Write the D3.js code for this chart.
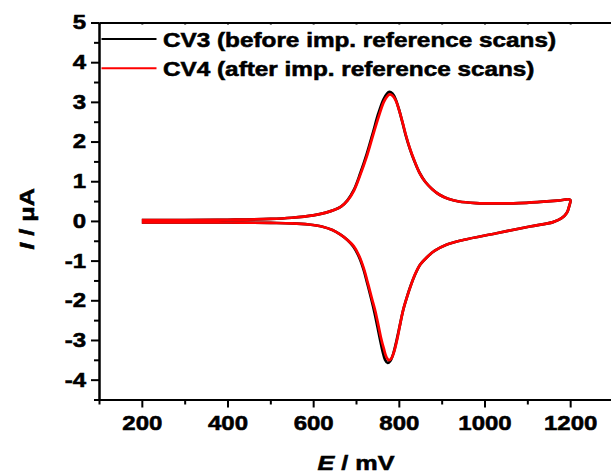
<!DOCTYPE html>
<html>
<head>
<meta charset="utf-8">
<script src="https://cdn.jsdelivr.net/npm/d3@7"></script>
<style>
  body { margin: 0; background: #fff; }
  svg text { font-family: "Liberation Sans", Arial, sans-serif; font-weight: bold; fill: #000; stroke: #000; stroke-width: 0.55px; }
</style>
</head>
<body>
<div id="chart"></div>
<script>
// CV3 (black) - forward scan then reverse scan, E in mV, I in uA
const cv3E = [200, 300, 400, 500, 550, 600, 630, 650, 665, 680, 695, 710, 725, 740, 752, 764, 772, 778, 785, 792, 800, 808, 816, 825, 835, 848, 862, 878, 895, 915, 940, 980, 1030, 1080, 1130, 1170, 1200,
              1198, 1192, 1180, 1160, 1106, 1028, 950, 911, 884, 865, 850, 838, 828, 818, 810, 803, 795, 787, 780, 774, 768, 762, 756, 750, 743, 736, 727, 717, 706, 694, 680, 663, 645, 620, 590, 550, 500, 400, 300, 200];
const cv3I = [0.02, 0.02, 0.03, 0.05, 0.08, 0.14, 0.21, 0.28, 0.36, 0.52, 0.78, 1.2, 1.68, 2.24, 2.7, 3.06, 3.2, 3.25, 3.21, 3.08, 2.82, 2.5, 2.16, 1.84, 1.54, 1.22, 0.98, 0.8, 0.66, 0.56, 0.49, 0.45, 0.44, 0.45, 0.48, 0.51, 0.53,
              0.38, 0.2, 0.07, -0.03, -0.14, -0.31, -0.48, -0.6, -0.75, -0.92, -1.1, -1.35, -1.62, -1.95, -2.25, -2.6, -3.0, -3.35, -3.53, -3.58, -3.5, -3.28, -2.98, -2.66, -2.3, -1.98, -1.6, -1.2, -0.88, -0.65, -0.48, -0.34, -0.23, -0.14, -0.09, -0.06, -0.05, -0.04, -0.04, -0.04];

// CV4 (red)
const cv4E = [200, 300, 400, 500, 550, 600, 630, 650, 665, 680, 695, 710, 725, 740, 753, 765, 773, 779, 786, 793, 801, 809, 817, 826, 836, 848, 862, 878, 895, 915, 940, 980, 1030, 1080, 1130, 1170, 1200,
              1198, 1192, 1180, 1160, 1106, 1028, 950, 911, 884, 865, 850, 838, 829, 819, 811, 804, 797, 789, 783, 777, 771, 765, 758, 752, 745, 737, 728, 718, 707, 695, 680, 663, 645, 620, 590, 550, 500, 400, 300, 200];
const cv4I = [0.02, 0.02, 0.03, 0.05, 0.08, 0.14, 0.21, 0.28, 0.36, 0.51, 0.76, 1.16, 1.62, 2.17, 2.63, 3.0, 3.14, 3.19, 3.15, 3.03, 2.78, 2.47, 2.14, 1.82, 1.53, 1.22, 0.98, 0.8, 0.66, 0.56, 0.49, 0.45, 0.44, 0.45, 0.48, 0.51, 0.53,
              0.38, 0.2, 0.07, -0.03, -0.14, -0.31, -0.48, -0.6, -0.75, -0.92, -1.1, -1.34, -1.6, -1.92, -2.21, -2.55, -2.94, -3.29, -3.46, -3.51, -3.43, -3.22, -2.93, -2.62, -2.27, -1.95, -1.58, -1.19, -0.87, -0.64, -0.48, -0.34, -0.23, -0.14, -0.09, -0.06, -0.05, -0.04, -0.04, -0.04];

const xTicks = [200, 400, 600, 800, 1000, 1200];
const xMinor = [100, 300, 500, 700, 900, 1100, 1300];
const yTicks = [-4, -3, -2, -1, 0, 1, 2, 3, 4, 5];
const yMinor = [-4.5, -3.5, -2.5, -1.5, -0.5, 0.5, 1.5, 2.5, 3.5, 4.5];
const seriesNames = ["CV3 (before imp. reference scans)", "CV4 (after imp. reference scans)"];
const seriesColors = ["#000000", "#ff0000"];

const width = 611, height = 474;
const margin = { top: 22.5, left: 99, right: -2, bottom: 74.5 };
const stretchX = 1.2; // reference glyphs are wider than Arial bold

const svg = d3.select("#chart").append("svg")
    .attr("width", width)
    .attr("height", height);

const x = d3.scaleLinear()
    .domain([100, 1300])
    .range([margin.left, width - margin.right]);

const y = d3.scaleLinear()
    .domain([-4.5, 5])
    .range([height - margin.bottom, margin.top]);

const line = d3.line()
    .x(d => x(d[0]))
    .y(d => y(d[1]))
    .curve(d3.curveCatmullRom.alpha(0.5));

// curves
const series = [d3.zip(cv3E, cv3I), d3.zip(cv4E, cv4I)];
series.forEach((pts, i) => {
    svg.append("path")
        .datum(pts)
        .attr("fill", "none")
        .attr("stroke", seriesColors[i])
        .attr("stroke-width", 2.7)
        .attr("stroke-linejoin", "round")
        .attr("d", line);
});

function styleAxis(g) {
    g.attr("font-family", null).attr("font-size", null);
    g.selectAll("path.domain").attr("stroke", "#000").attr("stroke-width", 2);
    g.selectAll("line").attr("stroke", "#000").attr("stroke-width", 2);
    g.selectAll("text").attr("font-size", 20);
}

// minor ticks
svg.append("g")
    .attr("transform", `translate(0,${y(-4.5)})`)
    .call(d3.axisBottom(x).tickValues(xMinor).tickSize(5).tickFormat("").tickSizeOuter(0))
    .call(styleAxis);
svg.append("g")
    .attr("transform", `translate(${x(100)},0)`)
    .call(d3.axisLeft(y).tickValues(yMinor).tickSize(5).tickFormat("").tickSizeOuter(0))
    .call(styleAxis);

// major ticks
svg.append("g")
    .attr("transform", `translate(0,${y(-4.5)})`)
    .call(d3.axisBottom(x).tickValues(xTicks).tickSize(8).tickPadding(8).tickSizeOuter(0).tickFormat(d => String(d)))
    .call(styleAxis);
svg.append("g")
    .attr("transform", `translate(${x(100)},0)`)
    .call(d3.axisLeft(y).tickValues(yTicks).tickSize(8).tickPadding(5).tickSizeOuter(0).tickFormat(d => String(d)))
    .call(styleAxis);

// top axis, small inward ticks
svg.append("g")
    .attr("transform", `translate(0,${y(5)})`)
    .call(d3.axisBottom(x).tickValues(xTicks.concat(xMinor)).tickSize(2).tickFormat("").tickSizeOuter(0))
    .call(styleAxis);

// axis titles
const xt = svg.append("text")
    .attr("x", (x(100) + x(1300)) / 2)
    .attr("y", 470)
    .attr("text-anchor", "middle")
    .attr("font-size", 21);
xt.append("tspan").attr("font-style", "italic").text("E");
xt.append("tspan").text(" / mV");

const yt = svg.append("text")
    .attr("transform", `translate(34,${y(0.05)}) rotate(-90)`)
    .attr("text-anchor", "middle")
    .attr("font-size", 21);
yt.append("tspan").attr("font-style", "italic").text("I");
yt.append("tspan").text(" / μA");

// legend
seriesNames.forEach((name, i) => {
    const ly = 39 + i * 29.3;
    svg.append("line")
        .attr("x1", 101.5).attr("x2", 156.5)
        .attr("y1", ly).attr("y2", ly)
        .attr("stroke", seriesColors[i])
        .attr("stroke-width", 2);
    svg.append("text")
        .attr("class", "legend")
        .attr("x", 163)
        .attr("y", ly + 8)
        .attr("font-size", 20)
        .text(name);
});

// widen all text to match the reference's broad bold glyphs
svg.selectAll("text").each(function () {
    const len = this.getComputedTextLength();
    const k = this.getAttribute("class") === "legend" ? 1.215 : stretchX;
    if (len > 0) {
        d3.select(this)
            .attr("textLength", len * k)
            .attr("lengthAdjust", "spacingAndGlyphs");
    }
});
</script>
</body>
</html>
